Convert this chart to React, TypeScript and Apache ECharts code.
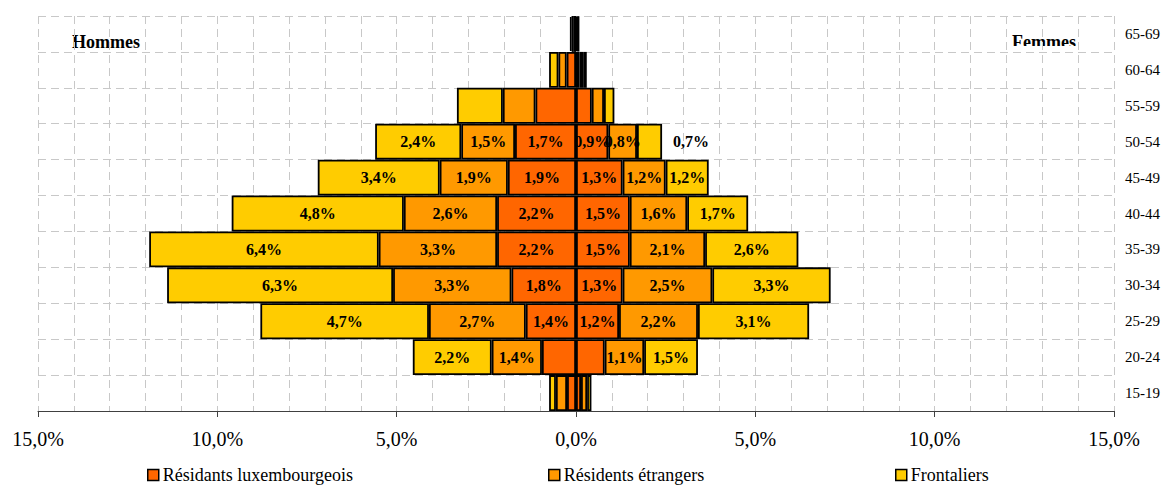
import React, { useEffect, useRef } from "react";
import * as echarts from "echarts";

const categories = ["15-19", "20-24", "25-29", "30-34", "35-39", "40-44", "45-49", "50-54", "55-59", "60-64", "65-69"];
const menLux = [0.25, 0.95, 1.4, 1.8, 2.2, 2.2, 1.9, 1.7, 1.13, 0.26, 0.06];
const menEtr = [0.31, 1.4, 2.7, 3.3, 3.3, 2.6, 1.9, 1.5, 0.91, 0.23, 0.06];
const menFront = [0.19, 2.2, 4.7, 6.3, 6.4, 4.8, 3.4, 2.4, 1.28, 0.26, 0.05];
const womenLux = [0.14, 0.8, 1.2, 1.3, 1.5, 1.5, 1.3, 0.9, 0.44, 0.1, 0.03];
const womenEtr = [0.17, 1.1, 2.2, 2.5, 2.1, 1.6, 1.2, 0.8, 0.34, 0.1, 0.03];
const womenFront = [0.12, 1.5, 3.1, 3.3, 2.6, 1.7, 1.2, 0.7, 0.29, 0.1, 0.02];
const labeledRows = ["20-24", "25-29", "30-34", "35-39", "40-44", "45-49", "50-54"];
const hiddenLabels = ["H-lux-20-24", "F-lux-20-24"];
const outsideLabels = ["F-front-50-54"];
const xTicks = [-15, -10, -5, 0, 5, 10, 15];

const seriesNames = ["Résidants luxembourgeois", "Résidents étrangers", "Frontaliers"];
const colors = ["#FF6600", "#FF9900", "#FFCC00"];
const FONT = "'Liberation Serif', 'Times New Roman', serif";

const fmt = (v: number) => Math.abs(v).toFixed(1).replace(".", ",") + "%";

export default function App() {
  const ref = useRef<HTMLDivElement>(null);
  useEffect(() => {
    if (!ref.current) return;
    const chart = echarts.init(ref.current, null, { renderer: "svg" });
    const keys = ["lux", "etr", "front"];
    const groups: [string, number[][], number][] = [
      ["H", [menLux, menEtr, menFront], -1],
      ["F", [womenLux, womenEtr, womenFront], 1],
    ];
    const series: any[] = [];
    groups.forEach(([side, arrs, sign]) => {
      arrs.forEach((arr, si) => {
        series.push({
          type: "bar",
          name: seriesNames[si],
          stack: "all",
          stackStrategy: "samesign",
          barCategoryGap: "0%",
          itemStyle: { color: colors[si], borderColor: "#000", borderWidth: 1.8 },
          data: arr.map((v, i) => {
            const key = `${side}-${keys[si]}-${categories[i]}`;
            const show = labeledRows.includes(categories[i]) && !hiddenLabels.includes(key);
            const outside = outsideLabels.includes(key);
            return {
              value: sign * v,
              label: {
                show,
                position: outside ? "right" : "inside",
                distance: 11,
              },
            };
          }),
          label: {
            formatter: (p: any) => fmt(p.value),
            fontFamily: FONT,
            fontWeight: "bold",
            fontSize: 16,
            color: "#000",
          },
        });
      });
    });
    const legendLefts = [147, 548, 895];
    chart.setOption({
      animation: false,
      textStyle: { fontFamily: FONT },
      grid: { left: 38, right: 49, top: 16, bottom: 75 },
      legend: seriesNames.map((n, i) => ({
        data: [n],
        left: legendLefts[i],
        top: 466,
        padding: 0,
        itemWidth: 11,
        itemHeight: 11,
        itemGap: 4,
        icon: "rect",
        itemStyle: { borderColor: "#000", borderWidth: 1.5 },
        textStyle: { fontFamily: FONT, fontSize: 18, color: "#000", padding: [0, 0, 0, -1] },
        selectedMode: false,
      })),
      xAxis: {
        type: "value",
        min: xTicks[0],
        max: xTicks[xTicks.length - 1],
        interval: 5,
        axisLine: { show: true, lineStyle: { color: "#404040", width: 1 } },
        axisTick: { show: true, length: 6, lineStyle: { color: "#404040" } },
        axisLabel: {
          formatter: (v: number) => fmt(v),
          fontFamily: FONT,
          fontSize: 20,
          color: "#000",
          margin: 18,
        },
        splitLine: { show: true, lineStyle: { type: [8, 5], color: "#c8c8c8" } },
        minorTick: { show: false, splitNumber: 5 },
        minorSplitLine: { show: true, lineStyle: { type: [8, 5], color: "#c8c8c8" } },
      },
      yAxis: {
        type: "category",
        data: categories,
        position: "right",
        axisLine: { show: false },
        axisTick: { show: false },
        axisLabel: { fontFamily: FONT, fontSize: 15, color: "#000", margin: 11 },
        splitLine: { show: true, lineStyle: { type: [8, 5], color: "#c8c8c8" } },
      },
      graphic: [
        {
          type: "text",
          left: 72,
          top: 33,
          style: { text: "Hommes", fontFamily: FONT, fontWeight: "bold", fontSize: 18, fill: "#000" },
        },
        {
          type: "text",
          left: 1012,
          top: 33,
          style: { text: "Femmes", fontFamily: FONT, fontWeight: "bold", fontSize: 18, fill: "#000" },
        },
        {
          type: "rect",
          shape: { x: 1008, y: 46, width: 78, height: 6 },
          style: { fill: "#fff" },
        },
      ],
      series,
    });
    return () => chart.dispose();
  }, []);
  return (
    <div
      ref={ref}
      style={{ position: "fixed", left: 0, top: 0, width: 1163, height: 486, background: "#fff" }}
    />
  );
}
